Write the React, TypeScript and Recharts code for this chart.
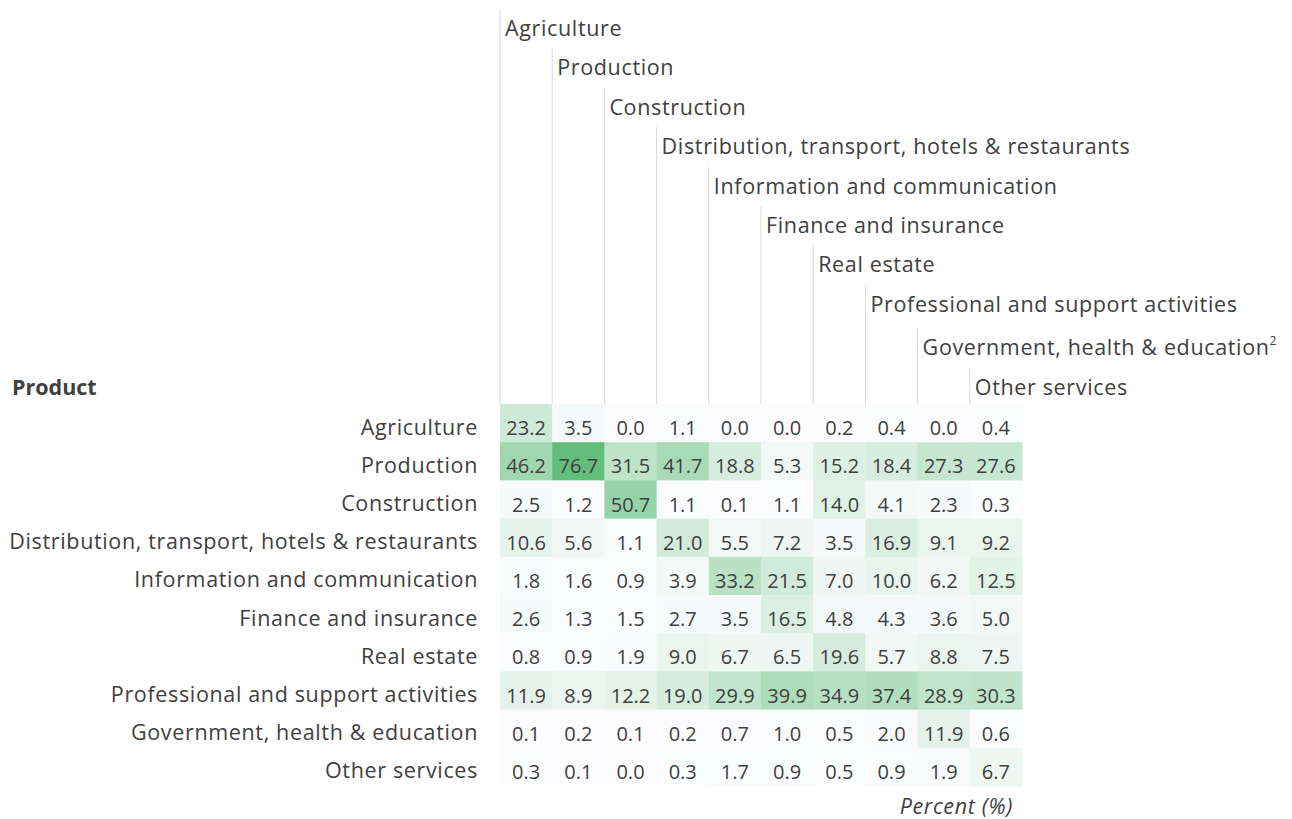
import React from "react";
import { ScatterChart, Scatter, XAxis, YAxis, Customized } from "recharts";

const industries = [
  "Agriculture",
  "Production",
  "Construction",
  "Distribution, transport, hotels & restaurants",
  "Information and communication",
  "Finance and insurance",
  "Real estate",
  "Professional and support activities",
  "Government, health & education",
  "Other services",
];
const industryFootnotes = ["", "", "", "", "", "", "", "", "2", ""];

const products = [
  "Agriculture",
  "Production",
  "Construction",
  "Distribution, transport, hotels & restaurants",
  "Information and communication",
  "Finance and insurance",
  "Real estate",
  "Professional and support activities",
  "Government, health & education",
  "Other services",
];

const rowAgriculture = [23.2, 3.5, 0.0, 1.1, 0.0, 0.0, 0.2, 0.4, 0.0, 0.4];
const rowProduction = [46.2, 76.7, 31.5, 41.7, 18.8, 5.3, 15.2, 18.4, 27.3, 27.6];
const rowConstruction = [2.5, 1.2, 50.7, 1.1, 0.1, 1.1, 14.0, 4.1, 2.3, 0.3];
const rowDistribution = [10.6, 5.6, 1.1, 21.0, 5.5, 7.2, 3.5, 16.9, 9.1, 9.2];
const rowInformation = [1.8, 1.6, 0.9, 3.9, 33.2, 21.5, 7.0, 10.0, 6.2, 12.5];
const rowFinance = [2.6, 1.3, 1.5, 2.7, 3.5, 16.5, 4.8, 4.3, 3.6, 5.0];
const rowRealEstate = [0.8, 0.9, 1.9, 9.0, 6.7, 6.5, 19.6, 5.7, 8.8, 7.5];
const rowProfessional = [11.9, 8.9, 12.2, 19.0, 29.9, 39.9, 34.9, 37.4, 28.9, 30.3];
const rowGovernment = [0.1, 0.2, 0.1, 0.2, 0.7, 1.0, 0.5, 2.0, 11.9, 0.6];
const rowOther = [0.3, 0.1, 0.0, 0.3, 1.7, 0.9, 0.5, 0.9, 1.9, 6.7];

const matrix = [
  rowAgriculture,
  rowProduction,
  rowConstruction,
  rowDistribution,
  rowInformation,
  rowFinance,
  rowRealEstate,
  rowProfessional,
  rowGovernment,
  rowOther,
];

const cells = matrix.flatMap((row, r) =>
  row.map((v, c) => ({ x: c + 0.5, y: r + 0.5, value: v }))
);
const ticks = industries.map((_, i) => i + 0.5);

const FONT = "'Open Sans', sans-serif";
const TEXT = "#404040";
const LABEL_SIZE = 21.5;
const LABEL_SPACING = 0.65;
const NUM_SIZE = 20;
const W = 1292;
const H = 819;
const PLOT_LEFT = 500;
const PLOT_RIGHT = 1022;
const PLOT_TOP = 404;
const PLOT_BOTTOM = 786;
const CW = (PLOT_RIGHT - PLOT_LEFT) / 10;
const RH = (PLOT_BOTTOM - PLOT_TOP) / 10;

const allVals = matrix.flat();
const VMIN = Math.min(...allVals);
const VMAX = Math.max(...allVals);
const LOW = [252, 252, 255];
const HIGH = [99, 190, 123];
function colorFor(v: number) {
  const t = (v - VMIN) / (VMAX - VMIN);
  const c = LOW.map((l, i) => Math.round(l + (HIGH[i] - l) * t));
  return `rgb(${c[0]},${c[1]},${c[2]})`;
}

const CellShape = (props: any) => {
  const { cx, cy, payload } = props;
  if (cx == null || cy == null) return null;
  return (
    <g>
      <rect
        x={cx - CW / 2}
        y={cy - RH / 2}
        width={CW + 0.5}
        height={RH + 0.5}
        fill={colorFor(payload.value)}
      />
      <text
        x={cx}
        y={cy + 12}
        textAnchor="middle"
        fontFamily={FONT}
        fontSize={NUM_SIZE}
        fill={TEXT}
      >
        {payload.value.toFixed(1)}
      </text>
    </g>
  );
};

const HeaderTick = (props: any) => {
  const { x, payload } = props;
  const i = Math.floor(payload.value);
  const left = x - CW / 2;
  const baseline = 36 + i * 39.4 + (i >= 8 ? 4 : 0);
  return (
    <g>
      <line
        x1={left}
        x2={left}
        y1={baseline - 27}
        y2={PLOT_TOP}
        stroke="#d9d9d9"
        strokeWidth={1}
      />
      <text
        x={left + 5}
        y={baseline}
        fontFamily={FONT}
        fontSize={LABEL_SIZE}
        letterSpacing={LABEL_SPACING}
        fill={TEXT}
      >
        {industries[i]}
        {industryFootnotes[i] ? (
          <tspan fontSize={12} dy={-10}>
            {industryFootnotes[i]}
          </tspan>
        ) : null}
      </text>
    </g>
  );
};

const RowTick = (props: any) => {
  const { y, payload } = props;
  const i = Math.floor(payload.value);
  return (
    <text
      x={PLOT_LEFT - 22}
      y={y + 11.5}
      textAnchor="end"
      fontFamily={FONT}
      fontSize={LABEL_SIZE}
      letterSpacing={LABEL_SPACING}
      fill={TEXT}
    >
      {products[i]}
    </text>
  );
};

const Extras = () => (
  <g>
    <text
      x={12}
      y={395}
      fontFamily={FONT}
      fontSize={LABEL_SIZE}
      fontWeight="bold"
      fill={TEXT}
    >
      Product
    </text>
    <text
      x={1013}
      y={814}
      textAnchor="end"
      fontFamily={FONT}
      fontSize={LABEL_SIZE}
      letterSpacing={LABEL_SPACING}
      fontStyle="italic"
      fill={TEXT}
    >
      Percent (%)
    </text>
  </g>
);

export default function App() {
  return (
    <div style={{ position: "absolute", left: 0, top: 0, background: "#fff" }}>
      <ScatterChart
        width={W}
        height={H}
        margin={{ top: 0, right: W - PLOT_RIGHT, bottom: H - PLOT_BOTTOM, left: 0 }}
      >
        <XAxis
          type="number"
          dataKey="x"
          domain={[0, 10]}
          orientation="top"
          height={PLOT_TOP}
          ticks={ticks}
          interval={0}
          tick={<HeaderTick />}
          axisLine={false}
          tickLine={false}
        />
        <YAxis
          type="number"
          dataKey="y"
          domain={[0, 10]}
          reversed
          width={PLOT_LEFT}
          ticks={ticks}
          interval={0}
          tick={<RowTick />}
          axisLine={false}
          tickLine={false}
        />
        <Scatter data={cells} shape={<CellShape />} isAnimationActive={false} />
        <Customized component={<Extras />} />
      </ScatterChart>
    </div>
  );
}
